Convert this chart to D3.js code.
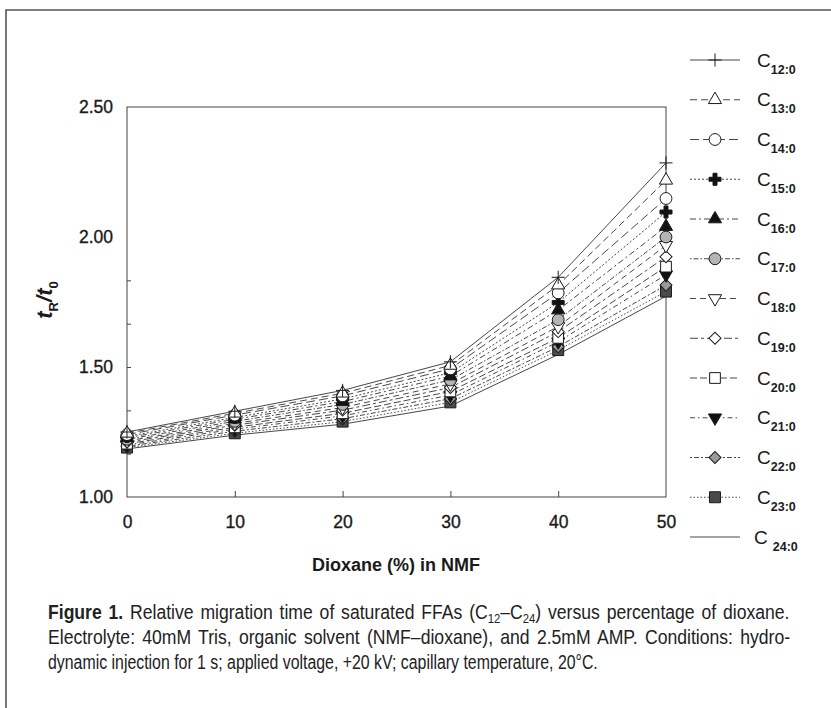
<!DOCTYPE html>
<html>
<head>
<meta charset="utf-8">
<script src="https://cdn.jsdelivr.net/npm/d3@7"></script>
<style>
  body { margin: 0; background: #fff; }
  svg { display: block; }
</style>
</head>
<body>
<svg width="831" height="708"></svg>
<script>
// dioxane content (%) and relative migration time per fatty acid
var dioxane = [0, 10, 20, 30, 40, 50];
var acids = ["12:0", "13:0", "14:0", "15:0", "16:0", "17:0", "18:0", "19:0", "20:0", "21:0", "22:0", "23:0", "24:0"];
var c12 = [1.250, 1.330, 1.410, 1.520, 1.845, 2.285];
var c13 = [1.245, 1.322, 1.399, 1.506, 1.815, 2.218];
var c14 = [1.240, 1.315, 1.389, 1.493, 1.785, 2.148];
var c15 = [1.233, 1.306, 1.377, 1.478, 1.748, 2.096];
var c16 = [1.228, 1.299, 1.367, 1.465, 1.719, 2.040];
var c17 = [1.222, 1.291, 1.356, 1.450, 1.682, 2.000];
var c18 = [1.216, 1.283, 1.344, 1.435, 1.656, 1.968];
var c19 = [1.211, 1.276, 1.334, 1.421, 1.636, 1.924];
var c20 = [1.205, 1.268, 1.322, 1.406, 1.612, 1.886];
var c21 = [1.200, 1.261, 1.312, 1.392, 1.597, 1.855];
var c22 = [1.195, 1.253, 1.301, 1.378, 1.578, 1.815];
var c23 = [1.190, 1.245, 1.290, 1.364, 1.565, 1.790];
var c24 = [1.185, 1.238, 1.280, 1.350, 1.548, 1.772];
var yLabels = [1.00, 1.50, 2.00, 2.50];
var xLabels = [0, 10, 20, 30, 40, 50];

var values = [c12, c13, c14, c15, c16, c17, c18, c19, c20, c21, c22, c23, c24];

// line dash + marker per series
var dashes = ["none", "7,4", "9,4", "2,2", "6,3,2,3", "1.5,2,5,2", "6,4", "8,3,3,3", "7,3", "5,3,1.5,3", "2,2,5,2", "1.5,2", "none"];

var thinPlus = {
	draw: function (ctx, size) {
		var r = Math.sqrt(size) / 2;
		ctx.moveTo(-r, 0); ctx.lineTo(r, 0);
		ctx.moveTo(0, -r); ctx.lineTo(0, r);
	}
};

var markers = [
	{ type: thinPlus, size: 170, fill: "none", rot: 0 },
	{ type: d3.symbolTriangle, size: 75, fill: "#fff", rot: 0 },
	{ type: d3.symbolCircle, size: 110, fill: "#fff", rot: 0 },
	{ type: d3.symbolCross, size: 80, fill: "#111", rot: 0 },
	{ type: d3.symbolTriangle, size: 75, fill: "#111", rot: 0 },
	{ type: d3.symbolCircle, size: 110, fill: "#b5b5b5", rot: 0 },
	{ type: d3.symbolTriangle, size: 75, fill: "#fff", rot: 180 },
	{ type: d3.symbolSquare, size: 72, fill: "#fff", rot: 45 },
	{ type: d3.symbolSquare, size: 115, fill: "#fff", rot: 0 },
	{ type: d3.symbolTriangle, size: 75, fill: "#111", rot: 180 },
	{ type: d3.symbolSquare, size: 72, fill: "#9a9a9a", rot: 45 },
	{ type: d3.symbolSquare, size: 120, fill: "#4a4a4a", rot: 0 },
	null
];

var series = acids.map(function (a, i) {
	return {
		name: a,
		dash: dashes[i],
		marker: markers[i],
		points: dioxane.map(function (x, j) { return { x: x, y: values[i][j] }; })
	};
});

var svg = d3.select("svg");
var font = "Liberation Sans, Arial, sans-serif";

// outer frame (open on right/bottom)
svg.append("path")
	.attr("d", "M6,708V10H831")
	.attr("fill", "none")
	.attr("stroke", "#555")
	.attr("stroke-width", 1.6);

var x = d3.scaleLinear().domain([0, 50]).range([127, 666]);
var y = d3.scaleLinear().domain([1, 2.5]).range([497, 107]);

var g = svg.append("g");

// plot box
g.append("rect")
	.attr("x", x(0))
	.attr("y", y(2.5))
	.attr("width", x(50) - x(0))
	.attr("height", y(1) - y(2.5))
	.attr("fill", "none")
	.attr("stroke", "#444")
	.attr("stroke-width", 1);

// y axis labels
var yAxis = g.append("g")
	.attr("transform", "translate(" + x(0) + ",0)")
	.call(d3.axisLeft(y).tickValues(yLabels).tickFormat(d3.format(".2f")).tickSize(0).tickPadding(14));
// inner minor ticks
var yMinor = g.append("g")
	.attr("transform", "translate(" + x(0) + ",0)")
	.call(d3.axisRight(y).tickValues(d3.range(1, 6).map(function (k) { return 1 + k * 0.25 / 1.5; })).tickSize(4).tickFormat(""));
yMinor.selectAll(".tick line").attr("stroke", "#444");

var xAxis = g.append("g")
	.attr("transform", "translate(0," + y(1) + ")")
	.call(d3.axisBottom(x).tickValues(xLabels).tickFormat(d3.format("d")).tickSize(0).tickPadding(19));
var xMinor = g.append("g")
	.attr("transform", "translate(0," + y(1) + ")")
	.call(d3.axisTop(x).tickValues([10, 20, 30, 40]).tickSize(6).tickFormat(""));
xMinor.selectAll(".tick line").attr("stroke", "#444");

[yAxis, xAxis, yMinor, xMinor].forEach(function (a) { a.select(".domain").remove(); });
g.selectAll(".tick text")
	.attr("font-family", font)
	.attr("font-size", 17.5)
	.attr("fill", "#1a1a1a")
	.attr("stroke", "#1a1a1a")
	.attr("stroke-width", 0.35);

// lines
var line = d3.line()
	.x(function (d) { return x(d.x); })
	.y(function (d) { return y(d.y); });

g.append("g")
	.selectAll("path")
	.data(series)
	.enter().append("path")
	.attr("d", function (d) { return line(d.points); })
	.attr("fill", "none")
	.attr("stroke", "#333")
	.attr("stroke-width", 0.9)
	.attr("stroke-dasharray", function (d) { return d.dash; });

function drawMarker(sel, m) {
	sel.append("path")
		.attr("d", d3.symbol().type(m.type).size(m.size)())
		.attr("fill", m.fill)
		.attr("stroke", "#1a1a1a")
		.attr("stroke-width", 1)
		.attr("transform", "rotate(" + m.rot + ")");
}

// markers (bottom series first so upper ones sit on top)
series.slice().reverse().forEach(function (s) {
	if (!s.marker) return;
	g.append("g")
		.selectAll("g")
		.data(s.points)
		.enter().append("g")
		.attr("transform", function (d) { return "translate(" + x(d.x) + "," + y(d.y) + ")"; })
		.each(function () { drawMarker(d3.select(this), s.marker); });
});

// axis titles
svg.append("text")
	.attr("x", 396)
	.attr("y", 571)
	.attr("text-anchor", "middle")
	.attr("font-family", font)
	.attr("font-weight", "bold")
	.attr("font-size", 18)
	.attr("fill", "#1a1a1a")
	.text("Dioxane (%) in NMF");

var yt = svg.append("text")
	.attr("transform", "translate(52,300) rotate(-90)")
	.attr("text-anchor", "middle")
	.attr("font-family", font)
	.attr("font-weight", "bold")
	.attr("font-style", "italic")
	.attr("font-size", 22)
	.attr("fill", "#1a1a1a");
yt.append("tspan").text("t");
yt.append("tspan").attr("dy", 6).attr("font-size", 13).attr("font-style", "normal").text("R");
yt.append("tspan").attr("dy", -6).text("/t");
yt.append("tspan").attr("dy", 6).attr("font-size", 13).attr("font-style", "normal").text("0");

// legend
var legend = svg.append("g")
	.selectAll("g")
	.data(series)
	.enter().append("g")
	.attr("transform", function (d, i) { return "translate(0," + (60 + i * 39.75) + ")"; });

legend.append("line")
	.attr("x1", 690)
	.attr("x2", 740)
	.attr("stroke", "#333")
	.attr("stroke-width", 0.9)
	.attr("stroke-dasharray", function (d) { return d.dash; });

legend.each(function (d) {
	if (!d.marker) return;
	var mg = d3.select(this).append("g").attr("transform", "translate(715,0)");
	drawMarker(mg, d.marker);
});

var lt = legend.append("text")
	.attr("x", function (d, i) { return i === 12 ? 754 : 757; })
	.attr("y", 6.5)
	.attr("font-family", font)
	.attr("font-size", 19)
	.attr("fill", "#1a1a1a");
lt.append("tspan").text("C");
lt.append("tspan")
	.attr("dx", function (d, i) { return i === 12 ? 5 : 0; })
	.attr("dy", 7)
	.attr("font-size", 12.5)
	.attr("font-weight", "bold")
	.text(function (d) { return d.name; });

// caption: condensed glyphs; the justified lines take a little word spacing
var cap = svg.append("g")
	.attr("font-family", font)
	.attr("font-size", 21)
	.attr("fill", "#222");

var l1 = cap.append("text");
l1.append("tspan").attr("font-weight", "bold").text("Figure 1.");
l1.append("tspan").text(" Relative migration time of saturated FFAs (C");
l1.append("tspan").attr("font-size", 13.5).attr("dy", 4).text("12");
l1.append("tspan").attr("dy", -4).text("–C");
l1.append("tspan").attr("font-size", 13.5).attr("dy", 4).text("24");
l1.append("tspan").attr("dy", -4).text(") versus percentage of dioxane.");

var l2 = cap.append("text")
	.text("Electrolyte: 40mM Tris, organic solvent (NMF–dioxane), and 2.5mM AMP. Conditions: hydro-");
var l3 = cap.append("text")
	.text("dynamic injection for 1 s; applied voltage, +20 kV; capillary temperature, 20°C.");

var s3 = 550 / l3.node().getComputedTextLength();
[[l1, 619, 742], [l2, 644, 743], [l3, 669, 550]].forEach(function (c) {
	var t = c[0],
		w = t.node().getComputedTextLength(),
		fitScale = c[2] / w,
		s = s3 + 0.75 * (fitScale - s3),
		spaces = t.text().split(" ").length - 1;
	t.attr("word-spacing", (c[2] / s - w) / spaces);
	t.attr("transform", "translate(48," + c[1] + ") scale(" + s + ",1)");
});
</script>
</body>
</html>
